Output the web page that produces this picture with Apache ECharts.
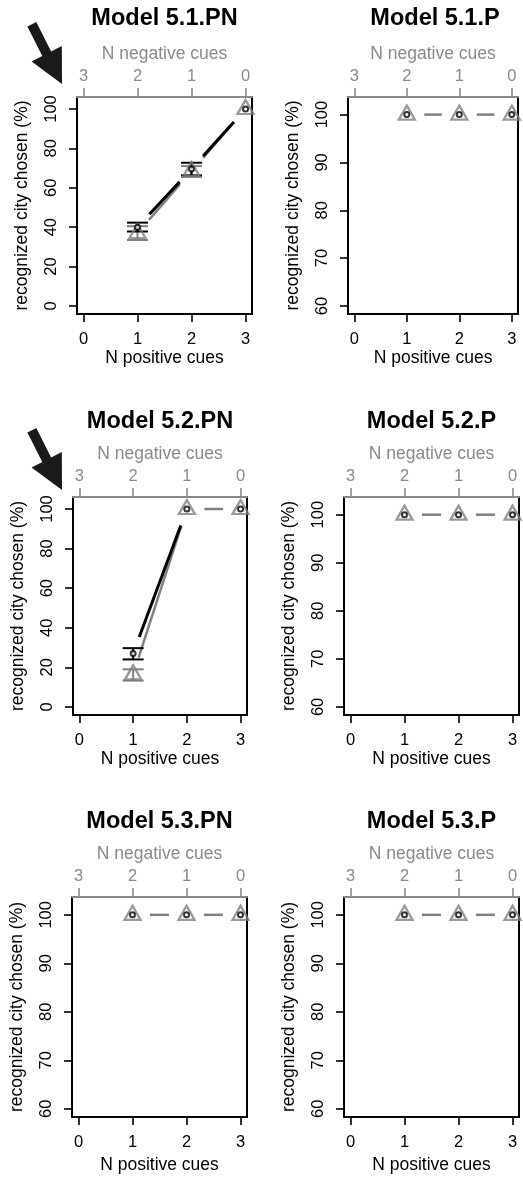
<!DOCTYPE html>
<html><head><meta charset="utf-8">
<script src="https://cdn.jsdelivr.net/npm/echarts@6/dist/echarts.min.js"></script>
<style>html,body{margin:0;padding:0;background:#fff}#c{width:523px;height:1177px}</style>
</head><body><div id="c"></div>
<script>
// ---- data ----
const titles = ['Model 5.1.PN','Model 5.1.P','Model 5.2.PN','Model 5.2.P','Model 5.3.PN','Model 5.3.P'];
const positiveCues = [1, 2, 3];
const xTicks = [0, 1, 2, 3];
const yTicksFull = [0, 20, 40, 60, 80, 100];
const yTicksHigh = [60, 70, 80, 90, 100];
// black series (means) per panel
const black51PN = [40, 69.5, 100];
const black51P  = [100, 100, 100];
const black52PN = [27, 100, 100];
const black52P  = [100, 100, 100];
const black53PN = [100, 100, 100];
const black53P  = [100, 100, 100];
// gray series (means) per panel
const gray51PN = [37, 68.5, 100];
const gray51P  = [100, 100, 100];
const gray52PN = [16.5, 100, 100];
const gray52P  = [100, 100, 100];
const gray53PN = [100, 100, 100];
const gray53P  = [100, 100, 100];
// error bars [x, low, high]
const blackErr51PN = [[1, 37.8, 42.3], [2, 66.3, 72.7]];
const grayErr51PN  = [[1, 33.5, 40.5], [2, 65.5, 71]];
const blackErr52PN = [[1, 24, 29.7]];
const grayErr52PN  = [[1, 13.3, 19]];

const blackSets = [black51PN, black51P, black52PN, black52P, black53PN, black53P];
const graySets  = [gray51PN, gray51P, gray52PN, gray52P, gray53PN, gray53P];
const blackErrs = [blackErr51PN, [], blackErr52PN, [], [], []];
const grayErrs  = [grayErr51PN, [], grayErr52PN, [], [], []];
const yTickSets = [yTicksFull, yTicksHigh, yTicksFull, yTicksHigh, yTicksHigh, yTicksHigh];

// ---- layout ----
const gridBoxes = [
  {left: 77, top: 97, width: 175, height: 217},
  {left: 348, top: 97, width: 174, height: 217},
  {left: 73, top: 497, width: 174, height: 218},
  {left: 344, top: 497, width: 175, height: 218},
  {left: 72, top: 897, width: 175, height: 220},
  {left: 344, top: 897, width: 175, height: 220}
];
const titleTops = [7, 7, 410, 410, 810, 810];
const bottomNameGaps = [35, 35, 35, 35, 39, 39];
const arrowTips = [[62, 84], [62, 490]];
const FONT = "'Liberation Sans', Arial, Helvetica, sans-serif";
const GRAY = '#8a8a8a';
const GRAY_MARK = '#808080';

function yRange(ticks) {
  const lo = ticks[0], hi = ticks[ticks.length - 1] + 2;
  const ext = (hi - lo) * 0.04;
  return [lo - ext, hi + ext];
}
const X_MIN = -0.12, X_MAX = 3.12;

const grid = [], xAxis = [], yAxis = [], series = [], title = [];
gridBoxes.forEach((g, i) => {
  grid.push({left: g.left, top: g.top, width: g.width, height: g.height, containLabel: false});
  title.push({
    text: titles[i], left: g.left + g.width / 2, top: titleTops[i], textAlign: 'center', padding: 0,
    textStyle: {fontFamily: FONT, fontSize: 23.5, fontWeight: 'bold', color: '#000'}
  });
  // bottom axis
  xAxis.push({
    type: 'value', gridIndex: i, position: 'bottom', min: X_MIN, max: X_MAX,
    name: 'N positive cues', nameLocation: 'middle', nameGap: bottomNameGaps[i],
    nameTextStyle: {fontFamily: FONT, fontSize: 17.5, color: '#000'},
    axisLine: {show: true, onZero: false, lineStyle: {color: '#000', width: 2}},
    axisTick: {show: true, length: 8, lineStyle: {color: '#000', width: 1.6}, customValues: xTicks},
    axisLabel: {show: true, margin: 17, fontFamily: FONT, fontSize: 16.5, color: '#000', customValues: xTicks},
    splitLine: {show: false}
  });
  // top axis (negative cues)
  xAxis.push({
    type: 'value', gridIndex: i, position: 'top', inverse: true, min: X_MIN, max: X_MAX,
    name: 'N negative cues', nameLocation: 'middle', nameGap: 34,
    nameTextStyle: {fontFamily: FONT, fontSize: 17.5, color: GRAY},
    axisLine: {show: true, onZero: false, lineStyle: {color: GRAY, width: 2}},
    axisTick: {show: true, length: 9, lineStyle: {color: GRAY, width: 1.6}, customValues: xTicks},
    axisLabel: {show: true, margin: 12, fontFamily: FONT, fontSize: 16.5, color: GRAY, customValues: xTicks},
    splitLine: {show: false}
  });
  const yr = yRange(yTickSets[i]);
  yAxis.push({
    type: 'value', gridIndex: i, position: 'left', min: yr[0], max: yr[1],
    name: 'recognized city chosen (%)', nameLocation: 'middle', nameGap: 46,
    nameTextStyle: {fontFamily: FONT, fontSize: 17.5, color: '#000'},
    axisLine: {show: true, onZero: false, lineStyle: {color: '#000', width: 2}},
    axisTick: {show: true, length: 8, lineStyle: {color: '#000', width: 1.6}, customValues: yTickSets[i]},
    axisLabel: {show: true, rotate: 90, margin: 17, fontFamily: FONT, fontSize: 16.5, color: '#000', customValues: yTickSets[i]},
    splitLine: {show: false}
  });
  yAxis.push({
    type: 'value', gridIndex: i, position: 'right', min: yr[0], max: yr[1],
    axisLine: {show: true, onZero: false, lineStyle: {color: '#000', width: 2}},
    axisTick: {show: false}, axisLabel: {show: false}, splitLine: {show: false}
  });

  const xb = 2 * i, yl = 2 * i;
  const bl = blackSets[i], gr = graySets[i];
  const graySegs = [], blackSegs = [];
  for (let k = 0; k < positiveCues.length - 1; k++) {
    graySegs.push([positiveCues[k], gr[k], positiveCues[k + 1], gr[k + 1]]);
    // where black segment coincides with gray one, gray covers it
    if (!(bl[k] === gr[k] && bl[k + 1] === gr[k + 1])) {
      blackSegs.push([positiveCues[k], bl[k], positiveCues[k + 1], bl[k + 1]]);
    }
  }
  const segRender = (color, width, gap) => (params, api) => {
    const a = api.coord([api.value(0), api.value(1)]);
    const b = api.coord([api.value(2), api.value(3)]);
    const dx = b[0] - a[0], dy = b[1] - a[1];
    const len = Math.sqrt(dx * dx + dy * dy);
    if (len <= 2 * gap) return null;
    const ux = dx / len, uy = dy / len;
    return {type: 'line', shape: {x1: a[0] + ux * gap, y1: a[1] + uy * gap, x2: b[0] - ux * gap, y2: b[1] - uy * gap},
      style: {stroke: color, lineWidth: width, lineCap: 'butt'}};
  };
  const errRender = (color, width, half) => (params, api) => {
    const lo = api.coord([api.value(0), api.value(1)]);
    const hi = api.coord([api.value(0), api.value(2)]);
    const st = {stroke: color, lineWidth: width};
    return {type: 'group', children: [
      {type: 'line', shape: {x1: lo[0], y1: lo[1], x2: hi[0], y2: hi[1]}, style: st},
      {type: 'line', shape: {x1: lo[0] - half, y1: lo[1], x2: lo[0] + half, y2: lo[1]}, style: st},
      {type: 'line', shape: {x1: hi[0] - half, y1: hi[1], x2: hi[0] + half, y2: hi[1]}, style: st}
    ]};
  };
  series.push({type: 'custom', xAxisIndex: xb, yAxisIndex: yl, z: 2, silent: true, clip: false,
    encode: {x: [0, 2], y: [1, 3]}, data: graySegs, renderItem: segRender(GRAY_MARK, 2.5, 17.5)});
  series.push({type: 'custom', xAxisIndex: xb, yAxisIndex: yl, z: 3, silent: true, clip: false,
    encode: {x: [0, 2], y: [1, 3]}, data: blackSegs, renderItem: segRender('#000', 3, 17.5)});
  series.push({type: 'custom', xAxisIndex: xb, yAxisIndex: yl, z: 4, silent: true, clip: false,
    encode: {x: 0, y: [1, 2]}, data: grayErrs[i], renderItem: errRender(GRAY_MARK, 2, 10.5)});
  series.push({type: 'custom', xAxisIndex: xb, yAxisIndex: yl, z: 5, silent: true, clip: false,
    encode: {x: 0, y: [1, 2]}, data: blackErrs[i], renderItem: errRender('#000', 2, 10.5)});
  series.push({type: 'scatter', xAxisIndex: xb, yAxisIndex: yl, z: 6, silent: true, clip: false,
    data: positiveCues.map((x, k) => [x, gr[k]]),
    symbol: 'triangle', symbolSize: [16, 14], symbolOffset: [0, -2],
    itemStyle: {color: 'rgba(255,255,255,0)', borderColor: GRAY_MARK, borderWidth: 2.3}});
  series.push({type: 'scatter', xAxisIndex: xb, yAxisIndex: yl, z: 7, silent: true, clip: false,
    data: positiveCues.map((x, k) => [x, bl[k]]),
    symbol: 'emptyCircle', symbolSize: 5,
    itemStyle: {color: '#000', borderWidth: 2.4}});
});

// arrows (annotation)
function arrowPoints(tip) {
  const d = [0.45, 0.89], n = [0.89, -0.45];
  const headLen = 34, headHalf = 17, shaftHalf = 5, total = 67;
  const B = [tip[0] - d[0] * headLen, tip[1] - d[1] * headLen];
  const Tl = [tip[0] - d[0] * total, tip[1] - d[1] * total];
  return [
    tip,
    [B[0] + n[0] * headHalf, B[1] + n[1] * headHalf],
    [B[0] + n[0] * shaftHalf, B[1] + n[1] * shaftHalf],
    [Tl[0] + n[0] * shaftHalf, Tl[1] + n[1] * shaftHalf],
    [Tl[0] - n[0] * shaftHalf, Tl[1] - n[1] * shaftHalf],
    [B[0] - n[0] * shaftHalf, B[1] - n[1] * shaftHalf],
    [B[0] - n[0] * headHalf, B[1] - n[1] * headHalf]
  ];
}
const graphic = arrowTips.map(t => ({type: 'polygon', shape: {points: arrowPoints(t)}, style: {fill: '#1a1a1a'}, silent: true}));

const chart = echarts.init(document.getElementById('c'), null, {renderer: 'canvas'});
chart.setOption({animation: false, backgroundColor: '#fff', title, grid, xAxis, yAxis, series, graphic});
</script></body></html>
